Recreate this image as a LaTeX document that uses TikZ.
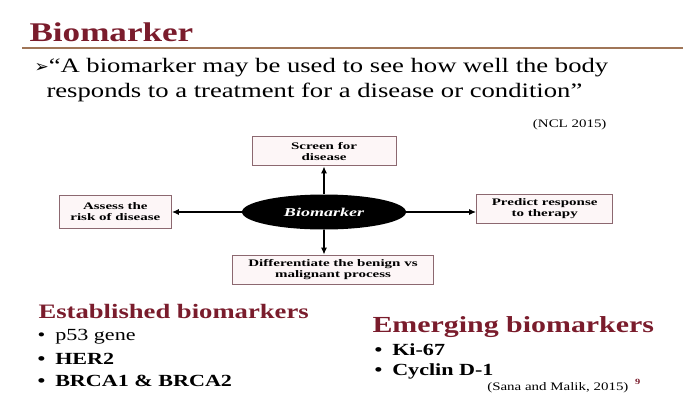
\documentclass[tikz,border=0pt]{standalone}
\usepackage{fontspec}
\setmainfont{Liberation Serif}[FakeStretch=1.3]
\newfontfamily\boxfont{Liberation Serif}[FakeStretch=1.5]
\newfontfamily\symfont{DejaVu Sans}
\usetikzlibrary{arrows.meta}
\usetikzlibrary{positioning}
\usetikzlibrary{shapes.geometric}
\definecolor{titlered}{RGB}{122,28,44}
\definecolor{rulebrown}{RGB}{160,118,88}
\definecolor{boxedge}{RGB}{140,104,112}
\definecolor{boxfill}{RGB}{253,246,247}

\begin{document}
\begin{tikzpicture}[
    x=1pt, y=-1pt,
    node distance=28pt and 70pt,
    box/.style={
        draw=boxedge, fill=boxfill,
        line width=0.9pt,
        minimum height=29pt,
        inner sep=2pt,
        font=\boxfont\fontsize{10}{11}\selectfont\bfseries,
        align=center
    },
    heading/.style={anchor=west, text=titlered, font=\fontsize{20.5}{23}\selectfont\bfseries},
    item/.style={anchor=west, font=\fontsize{17}{19}\selectfont},
    link/.style={-{Latex[length=7pt,width=6pt]}, line width=1.6pt}
]
\useasboundingbox (0,0) rectangle (683,394);
% slide title
\node[heading, font=\fontsize{27}{30}\selectfont\bfseries] (title) at (26,32) {Biomarker};
\draw[rulebrown, line width=2pt] (22,48) -- (683,48);
\node[anchor=west, font=\fontsize{20.5}{23}\selectfont] (quote1) at (31,68)
    {{\symfont\fontsize{17}{19}\selectfont ➢}``A biomarker may be used to see how well the body};
\node[anchor=west, font=\fontsize{20.5}{23}\selectfont] (quote2) at (43,92)
    {responds to a treatment for a disease or condition''};
\node[anchor=east, font=\fontsize{11.5}{13}\selectfont] (ncl) at (610,125) {(NCL 2015)};
% diagram
\node[ellipse, fill=black, minimum width=164pt, minimum height=35pt,
      text=white, font=\boxfont\fontsize{12}{14}\selectfont\bfseries\itshape] (bio) at (324,212) {Biomarker};
\node[box, minimum width=144pt, above=of bio] (screen) {Screen for\\disease};
\node[box, minimum width=112pt, minimum height=33pt, left=of bio] (risk) {Assess the\\risk of disease};
\node[box, minimum width=136pt, right=of bio, yshift=3pt] (predict) {Predict response\\to therapy};
\node[box, minimum width=201pt, below=25pt of bio, xshift=9pt] (benign) {Differentiate the benign vs\\malignant process};
\draw[link] (bio) -- (screen);
\draw[link] (bio.west) -- (bio.west -| risk.east);
\draw[link] (bio.east) -- (bio.east -| predict.west);
\draw[link] (bio.south) -- (bio.south |- benign.north);
% lists
\node[heading] (established) at (35,311) {Established biomarkers};
\node[item] (p53) at (34,337) {\textbullet\hspace{10pt}p53 gene};
\node[item, font=\fontsize{17}{19}\selectfont\bfseries] (her2) at (34,359) {\textbullet\hspace{10pt}HER2};
\node[item, font=\fontsize{17}{19}\selectfont\bfseries] (brca) at (34,381) {\textbullet\hspace{10pt}BRCA1 \& BRCA2};
\node[heading, font=\fontsize{23}{25}\selectfont\bfseries] (emerging) at (369,327) {Emerging biomarkers};
\node[item, font=\fontsize{17}{19}\selectfont\bfseries] (ki67) at (371,350) {\textbullet\hspace{10pt}Ki-67};
\node[item, font=\fontsize{17}{19}\selectfont\bfseries] (cyclin) at (371,371) {\textbullet\hspace{10pt}Cyclin D-1};
\node[anchor=east, font=\fontsize{11.5}{13}\selectfont] (sana) at (632,388) {(Sana and Malik, 2015)};
\node[anchor=west, text=titlered, inner sep=0pt, font=\fontsize{8}{9}\selectfont\bfseries] (page) at (635,382) {9};
\end{tikzpicture}
\end{document}
